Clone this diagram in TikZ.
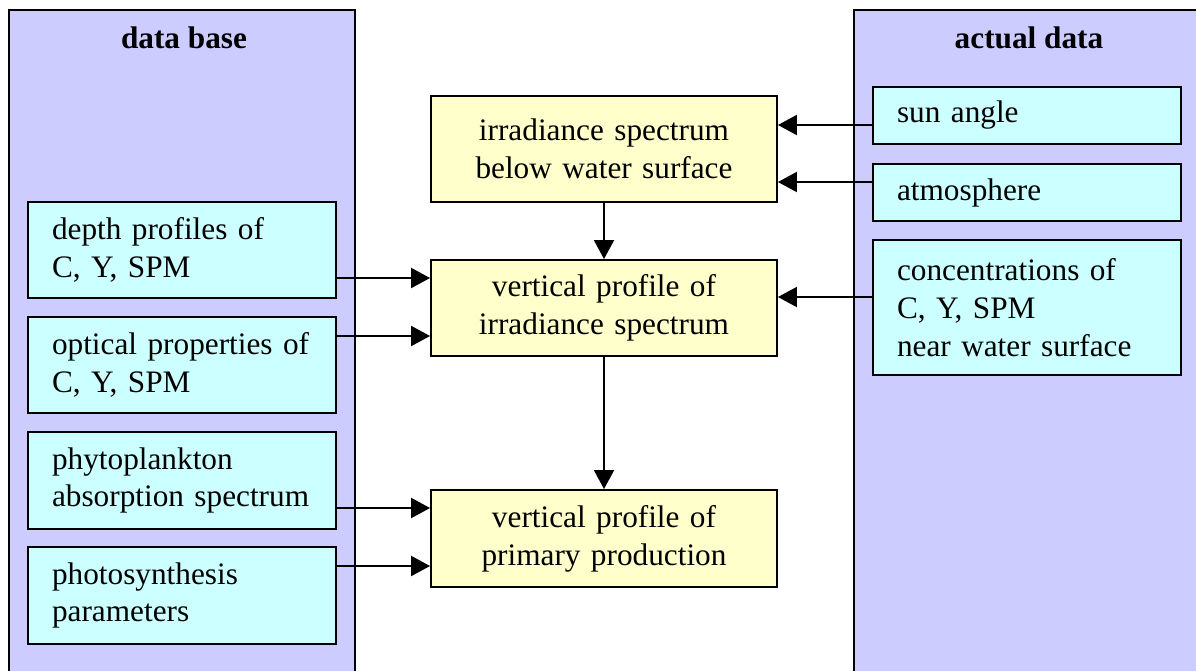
\documentclass[tikz,border=0pt]{standalone}
\usepackage{fontspec}
\setmainfont{Liberation Serif}
\usetikzlibrary{arrows.meta}
\definecolor{panelblue}{HTML}{CCCCFF}
\definecolor{datacyan}{HTML}{CCFFFF}
\definecolor{calcyellow}{HTML}{FFFFCC}

\begin{document}
\begin{tikzpicture}[x=0.02cm, y=-0.02cm]
% estilos
\tikzset{
  panel/.style={draw, line width=1.1pt, fill=panelblue},
  src/.style={draw, line width=1.1pt, fill=datacyan, minimum width=6.16cm,
    text width=5.2cm, inner xsep=0.48cm, align=left,
    font=\fontsize{17.8}{21.5}\selectfont},
  calc/.style={draw, line width=1.1pt, fill=calcyellow, minimum width=6.92cm,
    text width=6.4cm, align=center, font=\fontsize{17.8}{21.5}\selectfont},
  head/.style={anchor=base, font=\fontsize{17.8}{21.5}\selectfont\bfseries},
  arr/.style={line width=1.1pt, -{Triangle[length=0.38cm,width=0.4cm]}}
}

\useasboundingbox (0,0) rectangle (1196,670);

% the two data panels
\path[panel] (9,10) rectangle (355,690);
\path[panel] (854,10) rectangle (1210,690);
\node[head] (dbase) at (184,48) {data base};
\node[head] (actual) at (1029,48) {actual data};

% data base inputs
\node[src, minimum height=1.92cm] (depth) at (182,250) {depth profiles of\\C, Y, SPM};
\node[src, minimum height=1.92cm] (optic) at (182,365) {optical properties of\\C, Y, SPM};
\node[src, minimum height=1.94cm] (phyto) at (182,480.5) {phytoplankton\\absorption spectrum};
\node[src, minimum height=1.94cm] (photo) at (182,595.5) {photosynthesis\\parameters};

% actual inputs
\node[src, minimum height=1.14cm] (sun) at (1027,115.5) {sun angle};
\node[src, minimum height=1.14cm] (atmo) at (1027,192.5) {atmosphere};
\node[src, minimum height=2.7cm] (conc) at (1027,307.5) {concentrations of\\C, Y, SPM\\near water surface};

% model steps
\node[calc, minimum height=2.12cm] (irrsurf) at (604,149) {irradiance spectrum\\below water surface};
\node[calc, minimum height=1.92cm] (irrprof) at (604,308) {vertical profile of\\irradiance spectrum};
\node[calc, minimum height=1.94cm] (prod) at (604,538.5) {vertical profile of\\primary production};

\draw[arr] (irrsurf) -- (irrprof);
\draw[arr] (irrprof) -- (prod);

\draw[arr] (sun.west |- 0,125) -- (irrsurf.east |- 0,125);
\draw[arr] (atmo.west |- 0,182) -- (irrsurf.east |- 0,182);
\draw[arr] (conc.west |- 0,297) -- (irrprof.east |- 0,297);

\draw[arr] (depth.east |- 0,278) -- (irrprof.west |- 0,278);
\draw[arr] (optic.east |- 0,336) -- (irrprof.west |- 0,336);
\draw[arr] (phyto.east |- 0,508) -- (prod.west |- 0,508);
\draw[arr] (photo.east |- 0,566) -- (prod.west |- 0,566);
\end{tikzpicture}
\end{document}
